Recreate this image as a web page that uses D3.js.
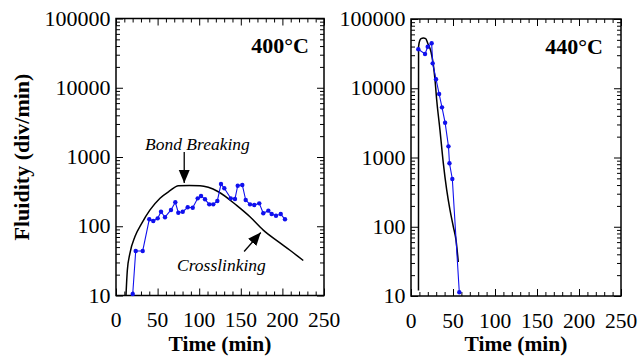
<!DOCTYPE html>
<html><head><meta charset="utf-8">
<script src="https://cdn.jsdelivr.net/npm/d3@7"></script>
<style>
body{margin:0;background:#fff;}
#wrap{position:relative;width:639px;height:356px;overflow:hidden;}
#wrap svg{position:absolute;left:0;top:0;}
.t{position:absolute;font-family:"Liberation Serif","Times New Roman",serif;line-height:0.8;white-space:nowrap;color:#000;}
</style></head><body>
<div id="wrap"><svg id="c" width="639" height="356"></svg></div>
<script>
// ---- data ----
const xTicks = [0, 50, 100, 150, 200, 250];
const yTicks = [10, 100, 1000, 10000, 100000];

// 400°C panel
const exp400T = [20.1,23.7,32.1,40.0,44.8,50.1,54.1,58.9,66.1,71.3,74.9,80.2,86.2,92.2,98.2,102.2,107,112.1,116.9,121.8,126.2,130.2,137.9,143,146.3,151.8,155.9,161.1,166.2,172.2,177,183.1,187.1,192.3,198,203.1];
const exp400V = [10.5,44,44,126,119,130,162,135,172,222,157,162,188,185,253,274,245,207,207,232,407,353,253,248,385,395,239,207,203,214,154,168,150,142,150,126];
const mod400T = [12,13.6,16.8,22.8,30.9,40.9,52.9,64.9,74.9,88,101,110.9,123,145,161,177,195,209.1,225.1];
const mod400V = [10,23,41,71,110,172,254,326,385,388,385,365,315,200,137,88,60,45,32];

// 440°C panel
const exp440T = [8.7,16.7,19.9,24.6,25.8,29.8,33.5,36.9,40.6,44.6,45.8,49.2,57.5];
const exp440V = [36500,31300,39800,44600,22900,13500,8260,5300,3180,1450,825,490,11.3];
const mod440T = [8.9,9.0,10.5,12,14.7,17.5,19.9,23.8,26.6,28.6,30.6,34.5,38.5,42.5,46.4,50.4,53.6,56.3];
const mod440V = [12,40000,49000,52000,53000,52000,44600,33700,21700,13150,6760,2490,824,340,175,100,64,31];

const panels = [
  {x0:116, x1:324, y0:295.5, y1:18.5, label:"400°C", labR:15, expT:exp400T, expV:exp400V, modT:mod400T, modV:mod400V, ylab:true},
  {x0:411, x1:621, y0:296, y1:19, label:"440°C", labR:18, expT:exp440T, expV:exp440V, modT:mod440T, modV:mod440V, ylab:false}
];

const svg = d3.select("#c");
const wrap = d3.select("#wrap");
const blue = "#1010ee";
const minorX = d3.range(0, 251, 10).filter(d => d % 50 !== 0);
const minorY = [];
for (let e = 1; e < 5; e++) for (let m = 2; m <= 9; m++) minorY.push(m * Math.pow(10, e));

const BL = 0.7375; // baseline offset (em) in a line-height:0.8 box
function label(text, x, y, size, anchor, weight, style){
  const tx = anchor === "middle" ? "-50%" : anchor === "end" ? "-100%" : "0";
  return wrap.append("div").attr("class","t").text(text)
    .style("left", x + "px").style("top", (y - BL*size) + "px")
    .style("font-size", size + "px").style("font-weight", weight || "normal")
    .style("font-style", style || "normal").style("transform", `translateX(${tx})`);
}

panels.forEach(p => {
  const x = d3.scaleLinear().domain([0, 250]).range([p.x0, p.x1]);
  const y = d3.scaleLog().domain([10, 100000]).range([p.y0, p.y1]);
  const g = svg.append("g");
  const W = p.x1 - p.x0, H = p.y0 - p.y1;

  function styleAxis(sel){
    sel.select(".domain").remove();
    sel.selectAll("line").attr("stroke","#000").attr("stroke-width",1);
    sel.selectAll("text").remove();
  }
  const ax = [
    [d3.axisBottom(x).tickValues(xTicks).tickSize(-7), `translate(0,${p.y0})`],
    [d3.axisBottom(x).tickValues(minorX).tickSize(-4), `translate(0,${p.y0})`],
    [d3.axisTop(x).tickValues(xTicks).tickSize(-7), `translate(0,${p.y1})`],
    [d3.axisTop(x).tickValues(minorX).tickSize(-4), `translate(0,${p.y1})`],
    [d3.axisLeft(y).tickValues(yTicks).tickSize(-7), `translate(${p.x0},0)`],
    [d3.axisLeft(y).tickValues(minorY).tickSize(-4), `translate(${p.x0},0)`],
    [d3.axisRight(y).tickValues(yTicks).tickSize(-7), `translate(${p.x1},0)`],
    [d3.axisRight(y).tickValues(minorY).tickSize(-4), `translate(${p.x1},0)`]
  ];
  ax.forEach(([a, tr]) => g.append("g").attr("transform", tr).call(a.tickFormat("")).call(styleAxis));

  xTicks.forEach(d => label(d3.format("d")(d), x(d), p.y0 + 32.5, 21.5, "middle"));
  yTicks.forEach(d => label(d3.format("d")(d), p.x0 - 5.5, y(d) + 7.3, 22, "end"));

  g.append("rect").attr("x",p.x0).attr("y",p.y1).attr("width",W).attr("height",H)
    .attr("fill","none").attr("stroke","#000").attr("stroke-width",1.5);

  const clipId = "clip" + p.x0;
  svg.append("clipPath").attr("id",clipId).append("rect")
    .attr("x",p.x0).attr("y",p.y1-1).attr("width",W).attr("height",H+2);

  const mod = p.modT.map((t,i) => [t, p.modV[i]]);
  const exp = p.expT.map((t,i) => [t, p.expV[i]]);
  const plot = g.append("g").attr("clip-path",`url(#${clipId})`);
  plot.append("path").datum(mod).attr("d", d3.line().curve(d3.curveMonotoneX).x(d=>x(d[0])).y(d=>y(d[1])))
    .attr("fill","none").attr("stroke","#000").attr("stroke-width",1.5);
  plot.append("path").datum(exp).attr("d", d3.line().x(d => x(d[0])).y(d => y(d[1])))
    .attr("fill","none").attr("stroke",blue).attr("stroke-width",1.1);
  plot.selectAll("circle").data(exp).join("circle")
    .attr("cx", d => x(d[0])).attr("cy", d => y(d[1])).attr("r", 2.2).attr("fill", blue);

  label(p.label, p.x1 - p.labR, p.y1 + 35, 22, "end", "bold");
  label("Time (min)", (p.x0+p.x1)/2, 352, 21.5, "middle", "bold");

  if (p.ylab) {
    wrap.append("div").attr("class","t").text("Fluidity (div/min)")
      .style("left","21.5px").style("top","157px").style("font-size","22px").style("font-weight","bold")
      .style("transform","translate(-50%,-50%) rotate(-90deg)");

    label("Bond Breaking", 145, 150, 17.5, "start", "normal", "italic");
    label("Crosslinking", 177, 271, 17.5, "start", "normal", "italic");

    const defs = svg.append("defs");
    defs.append("marker").attr("id","ah").attr("viewBox","0 0 10 10").attr("refX",10).attr("refY",5)
      .attr("markerWidth",13).attr("markerHeight",13).attr("markerUnits","userSpaceOnUse").attr("orient","auto")
      .append("path").attr("d","M0,0.8 L10,5 L0,9.2 Z").attr("fill","#000");
    g.append("line").attr("x1",x(82)).attr("y1",152).attr("x2",x(82)).attr("y2",183)
      .attr("stroke","#000").attr("stroke-width",1.3).attr("marker-end","url(#ah)");
    g.append("line").attr("x1",x(154)).attr("y1",251.5).attr("x2",x(174)).attr("y2",232.5)
      .attr("stroke","#000").attr("stroke-width",1.3).attr("marker-end","url(#ah)");
  }
});
</script>
</body></html>
